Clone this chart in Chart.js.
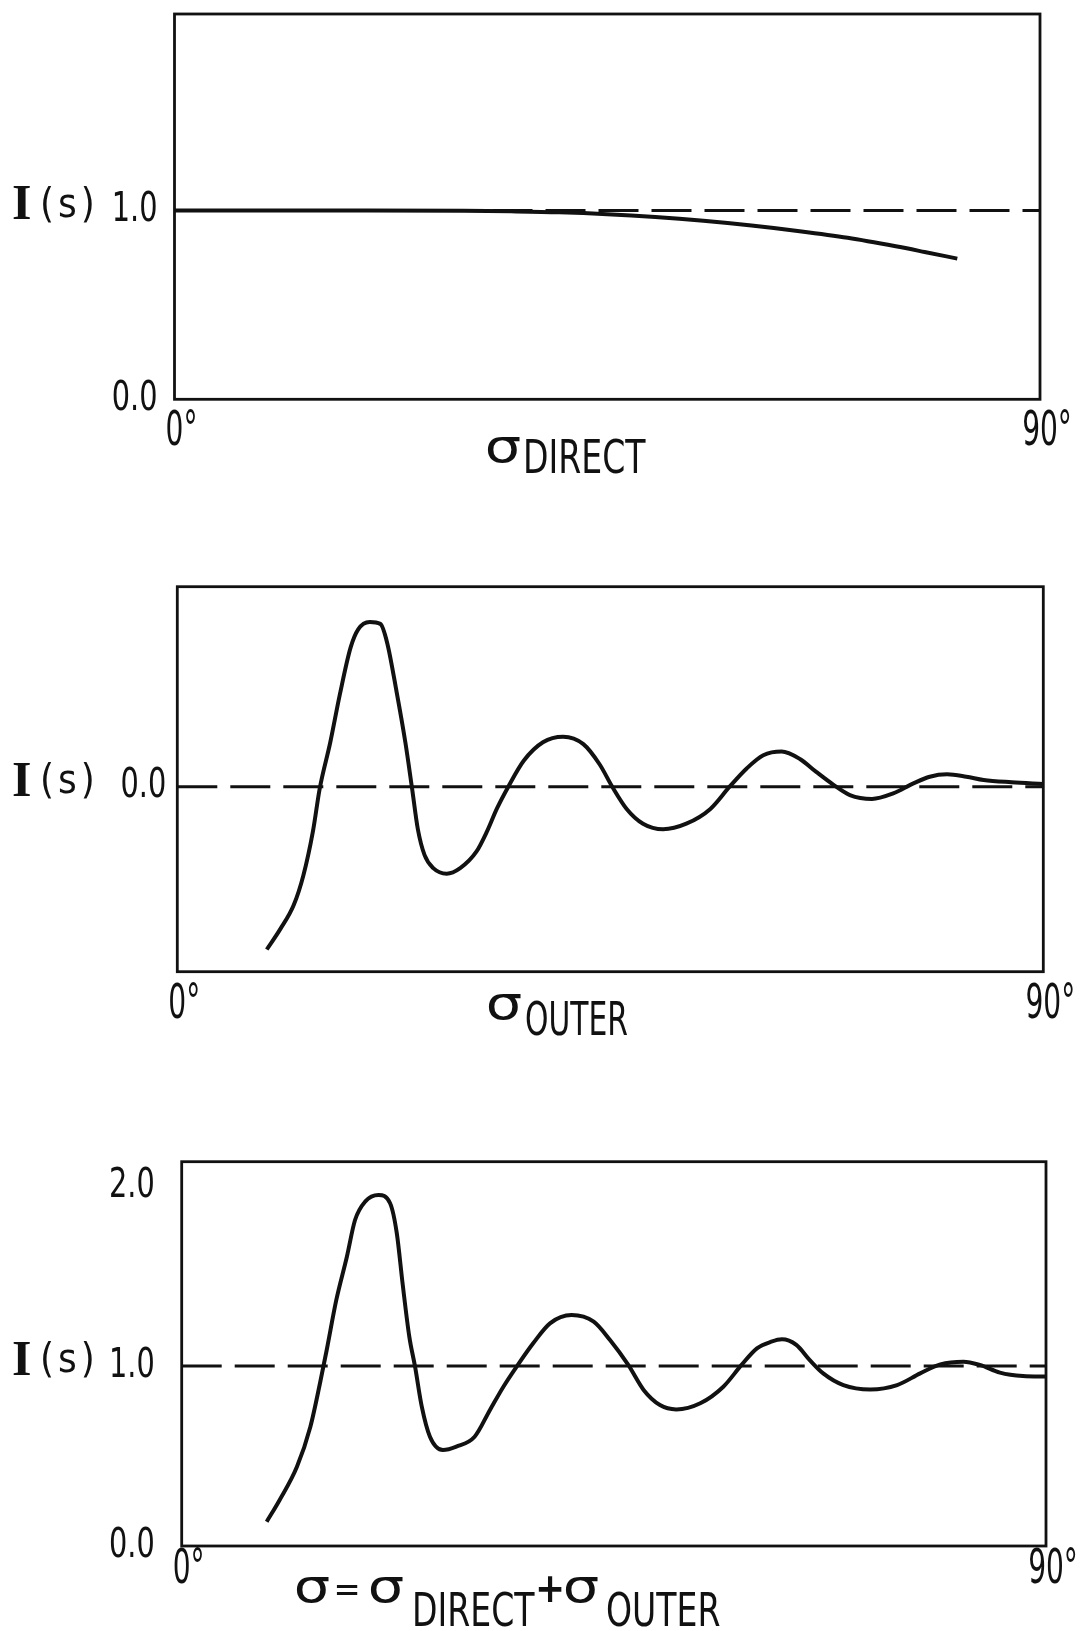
<!DOCTYPE html>
<html><head><meta charset="utf-8">
<script src="https://cdn.jsdelivr.net/npm/chart.js@4/dist/chart.umd.min.js"></script>
<style>
html,body{margin:0;padding:0;background:#fff;}
#wrap{position:relative;width:1082px;height:1631px;overflow:hidden;background:#fff;}
canvas{position:absolute;left:0;}
</style></head><body>
<div id="wrap">
<canvas id="c1" width="1082" height="490" style="top:0px"></canvas>
<canvas id="c2" width="1082" height="500" style="top:545px"></canvas>
<canvas id="c3" width="1082" height="521" style="top:1110px"></canvas>
</div>
<script>
// ---------- data ----------
const xTickValues = [0, 90];
const refLineAngles = [0, 90];

const directAngles = [0, 10, 20, 30, 35, 40, 45, 50, 55, 60, 65, 70, 75, 78, 81.4];
const directValues = [1.0, 1.0, 1.0, 0.998, 0.995, 0.99, 0.98, 0.965, 0.945, 0.92, 0.89, 0.855, 0.81, 0.78, 0.745];
const directRef = 1.0;
const directYTicks = [0, 1];

const outerAngles = [9.3, 10.7, 12.1, 13.1, 14.1, 14.8, 15.9, 16.9, 18.0, 18.8, 20.0, 21.1, 21.8, 22.8, 23.7, 24.4, 25.0, 25.7, 26.6, 28.0, 29.4, 31.1, 32.2, 33.2, 34.4, 36.0, 38.0, 40.1, 42.2, 43.9, 45.2, 46.7, 48.4, 50.5, 52.9, 55.4, 57.4, 59.2, 60.9, 62.8, 64.7, 66.4, 68.2, 69.9, 72.2, 74.4, 76.5, 78.2, 80.0, 82.0, 83.8, 86.7, 90.0];
const outerValues = [-0.88, -0.77, -0.64, -0.48, -0.24, -0.01, 0.24, 0.50, 0.75, 0.85, 0.89, 0.88, 0.78, 0.51, 0.24, -0.01, -0.23, -0.37, -0.44, -0.47, -0.44, -0.35, -0.24, -0.12, 0.0, 0.14, 0.24, 0.27, 0.23, 0.12, 0.0, -0.12, -0.20, -0.23, -0.20, -0.12, 0.0, 0.10, 0.17, 0.19, 0.15, 0.08, 0.01, -0.045, -0.066, -0.036, 0.018, 0.054, 0.067, 0.054, 0.036, 0.024, 0.015];
const outerRef = 0.0;
const outerYTicks = [0];

const sumAngles = [8.85, 10.2, 12.0, 13.4, 14.4, 15.1, 16.1, 17.2, 18.05, 19.1, 20.5, 21.7, 22.4, 23.0, 23.7, 24.3, 25.0, 25.85, 27.2, 28.6, 30.5, 32.1, 33.5, 35.0, 36.6, 38.35, 40.6, 42.9, 44.6, 46.5, 48.1, 49.8, 51.5, 54.0, 56.4, 58.3, 59.9, 61.4, 62.5, 64.0, 65.4, 66.8, 68.9, 71.7, 74.5, 76.9, 79.0, 81.4, 83.1, 85.2, 87.6, 90.0];
const sumValues = [0.135, 0.256, 0.44, 0.663, 0.904, 1.089, 1.367, 1.607, 1.811, 1.913, 1.95, 1.904, 1.737, 1.459, 1.163, 0.996, 0.774, 0.607, 0.533, 0.552, 0.607, 0.756, 0.885, 1.006, 1.126, 1.237, 1.283, 1.246, 1.144, 1.006, 0.867, 0.783, 0.759, 0.793, 0.885, 1.006, 1.098, 1.135, 1.148, 1.117, 1.033, 0.959, 0.894, 0.87, 0.894, 0.959, 1.009, 1.024, 1.006, 0.963, 0.944, 0.941];
const sumRef = 1.0;
const sumYTicks = [0, 1, 2];

// ---------- styling / layout ----------
const NARROW = "'Liberation Sans Narrow', 'DejaVu Sans Condensed', 'Roboto Condensed', sans-serif";
const SIGMA_FONT = "46px 'DejaVu Sans', sans-serif";
const SUB_FONT = "46px " + NARROW;
const INK = '#111';

// draw the library's own tick label items, horizontally condensed
function condensedLabels(k) {
  return function (chartArea) {
    const ctx = this.ctx;
    let items;
    try { items = this.getLabelItems(chartArea); } catch (e) { items = []; }
    for (const item of items) {
      const o = item.options;
      ctx.save();
      ctx.translate(o.translation[0], o.translation[1]);
      if (o.rotation) ctx.rotate(o.rotation);
      ctx.scale(k, 1);
      ctx.font = item.font.string;
      ctx.fillStyle = o.color;
      ctx.textAlign = o.textAlign;
      ctx.textBaseline = o.textBaseline;
      const lines = Array.isArray(item.label) ? item.label : [item.label];
      let y = item.textOffset;
      for (const line of lines) { ctx.fillText(String(line), 0, y); y += item.font.lineHeight; }
      ctx.restore();
    }
  };
}

const annotPlugin = {
  id: 'annot',
  afterDraw(chart, args, opts) {
    const ctx = chart.ctx;
    const top = opts.canvasTop;
    ctx.save();
    ctx.fillStyle = INK;
    const ys = chart.scales.y.getPixelForValue(opts.refValue) - 4;
    ctx.textBaseline = 'middle';
    ctx.textAlign = 'left';
    ctx.font = "bold 50px 'Liberation Serif', serif";
    ctx.fillText('I', 12, ys);
    ctx.font = "40px " + NARROW;
    try { ctx.letterSpacing = '4px'; } catch (e) {}
    ctx.fillText('(s)', 40, ys);
    try { ctx.letterSpacing = '0px'; } catch (e) {}
    for (const it of opts.items) {
      ctx.save();
      ctx.translate(it.x, it.y - top);
      ctx.scale(it.sx || 1, 1);
      ctx.font = it.font;
      ctx.textAlign = it.align || 'left';
      ctx.textBaseline = 'alphabetic';
      ctx.fillText(it.text, 0, 0);
      ctx.restore();
    }
    ctx.restore();
  }
};

const boxPlugin = {
  id: 'box',
  afterDatasetsDraw(chart) {
    const {ctx, chartArea: a} = chart;
    ctx.save();
    ctx.strokeStyle = INK;
    ctx.lineWidth = 2.8;
    ctx.strokeRect(a.left, a.top, a.right - a.left, a.bottom - a.top);
    ctx.restore();
  }
};

function makePanel(id, L, angles, values, refValue, yTicks, items) {
  const curve = angles.map((a, i) => ({x: a, y: values[i]}));
  const ref = refLineAngles.map(a => ({x: a, y: refValue}));
  return new Chart(document.getElementById(id), {
    type: 'line',
    data: {
      datasets: [
        {data: curve, borderColor: INK, borderWidth: 4, pointRadius: 0, cubicInterpolationMode: 'monotone', fill: false, order: 0},
        {data: ref, borderColor: INK, borderWidth: 3, borderDash: [40, 13], pointRadius: 0, fill: false, order: 1}
      ]
    },
    options: {
      responsive: false,
      animation: false,
      devicePixelRatio: 1,
      layout: {padding: {left: 0, top: L.boxTop - L.canvasTop, right: 1082 - L.boxRight, bottom: 0}},
      plugins: {
        legend: {display: false},
        tooltip: {enabled: false},
        annot: {canvasTop: L.canvasTop, refValue: refValue, items: items}
      },
      scales: {
        x: {
          type: 'linear', min: 0, max: 90,
          afterBuildTicks: s => { s.ticks = xTickValues.map(v => ({value: v})); },
          afterFit: s => {
            s.height = L.canvasH - (L.boxBottom - L.canvasTop);
            s.paddingLeft = 0; s.paddingRight = 0;
            s.drawLabels = condensedLabels(0.65);
          },
          grid: {display: false, drawTicks: false}, border: {display: false},
          ticks: {callback: v => v + '°', font: {family: NARROW, size: 48, lineHeight: 1}, color: INK,
                  padding: L.xPad, labelOffset: 7, maxRotation: 0, autoSkip: false}
        },
        y: {
          type: 'linear', min: L.yMin, max: L.yMax,
          afterBuildTicks: s => { s.ticks = yTicks.map(v => ({value: v})); },
          afterFit: s => {
            s.width = L.boxLeft;
            s.paddingTop = 0; s.paddingBottom = 0;
            s.drawLabels = condensedLabels(0.78);
          },
          grid: {display: false, drawTicks: false}, border: {display: false},
          ticks: {callback: v => Number(v).toFixed(1), font: {family: NARROW, size: 41, lineHeight: 1}, color: INK, padding: L.yPad}
        }
      }
    },
    plugins: [annotPlugin, boxPlugin]
  });
}

makePanel('c1',
  {canvasTop: 0, canvasH: 490, boxLeft: 174.5, boxRight: 1040, boxTop: 14, boxBottom: 399.3, yMin: 0, yMax: 2.04, yPad: 17, xPad: 9},
  directAngles, directValues, directRef, directYTicks,
  [
    {text: 'σ', x: 503, y: 462, font: SIGMA_FONT, align: 'center', sx: 1.25},
    {text: 'DIRECT', x: 523, y: 473, font: SUB_FONT, sx: 0.8}
  ]);

makePanel('c2',
  {canvasTop: 545, canvasH: 500, boxLeft: 177.3, boxRight: 1043.3, boxTop: 586.7, boxBottom: 971.7, yMin: -1.0, yMax: 1.081, yPad: 11, xPad: 10},
  outerAngles, outerValues, outerRef, outerYTicks,
  [
    {text: 'σ', x: 504, y: 1019, font: SIGMA_FONT, align: 'center', sx: 1.25},
    {text: 'OUTER', x: 525, y: 1035, font: SUB_FONT, sx: 0.72}
  ]);

makePanel('c3',
  {canvasTop: 1110, canvasH: 521, boxLeft: 181.7, boxRight: 1046, boxTop: 1161.7, boxBottom: 1546, yMin: 0, yMax: 2.135, yPad: 27, xPad: 1},
  sumAngles, sumValues, sumRef, sumYTicks,
  [
    {text: 'σ', x: 312, y: 1602, font: SIGMA_FONT, align: 'center', sx: 1.25},
    {text: '=', x: 347, y: 1601, font: "36px " + NARROW, align: 'center'},
    {text: 'σ', x: 386, y: 1602, font: SIGMA_FONT, align: 'center', sx: 1.25},
    {text: 'DIRECT', x: 412, y: 1626, font: SUB_FONT, sx: 0.8},
    {text: '+', x: 550, y: 1602, font: "bold 40px " + NARROW, align: 'center'},
    {text: 'σ', x: 581, y: 1602, font: SIGMA_FONT, align: 'center', sx: 1.25},
    {text: 'OUTER', x: 606, y: 1626, font: SUB_FONT, sx: 0.8}
  ]);
</script>
</body></html>
